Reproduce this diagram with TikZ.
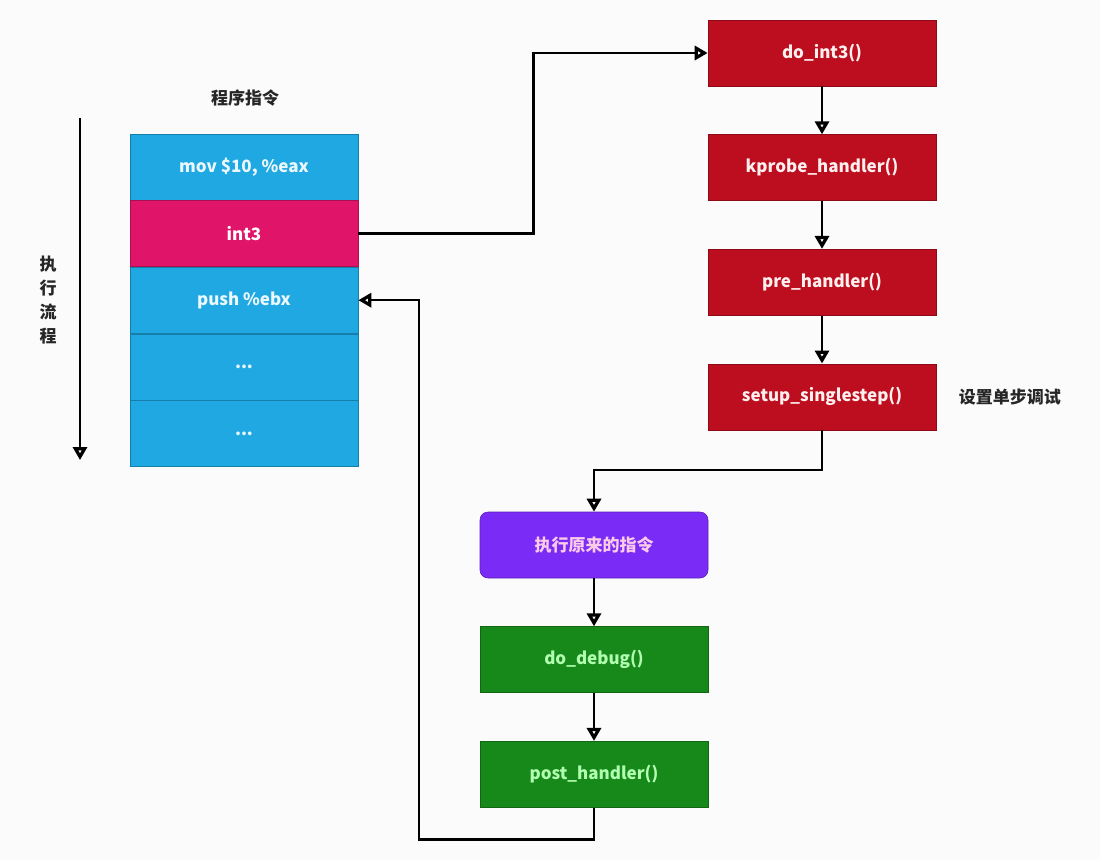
\documentclass[tikz,border=0pt]{standalone}
\usepackage{fontspec}
\setmainfont{Noto Sans CJK SC}
\usetikzlibrary{positioning,arrows.meta}

\definecolor{bgpaper}{HTML}{FBFBFC}
\definecolor{stackblue}{HTML}{1FA8E2}
\definecolor{trapred}{HTML}{E0156A}
\definecolor{handlered}{HTML}{BC0E1E}
\definecolor{origpurple}{HTML}{7A2CF6}
\definecolor{debuggreen}{HTML}{17891A}

\begin{document}
\begin{tikzpicture}[x=1pt, y=1pt, node distance={48pt}, line width=2.5pt,
	>={Triangle[length=13pt,width=14pt,fill=white,line width=3.5pt]},
	box/.style={minimum width=228pt, minimum height=66pt, inner sep=0pt, line width=0.6pt, font=\fontsize{17}{20}\selectfont\bfseries},
	instr/.style={box, draw=stackblue!75!black, fill=stackblue, text=cyan!8},
	trap/.style={box, draw=trapred!75!black, fill=trapred, text=white},
	handler/.style={box, draw=handlered!75!black, fill=handlered, text=red!6},
	orig/.style={box, draw=origpurple!75!black, fill=origpurple, rounded corners=8pt, text=magenta!20},
	debug/.style={box, draw=debuggreen!75!black, fill=debuggreen, text=green!30},
	note/.style={font=\fontsize{17}{24}\selectfont\bfseries, text=black!85}]
	\useasboundingbox[fill=bgpaper] (0,0) rectangle (1100,-860);
	
	% program instructions
	\node[note] (title) at (245,-98) {程序指令};
	\node[instr] (mov) at (244,-167) {mov \$10, \%eax};
	\node[trap] (int3) [below=0pt of mov] {int3};
	\node[instr] (push) [below=0pt of int3] {push \%ebx};
	\node[instr] (dots1) [below=0pt of push] {...};
	\node[instr] (dots2) [below=0pt of dots1] {...};
	
	\coordinate (flowtop) at (80,-118);
	\coordinate (flowend) at (80,-460);
	\draw[->] (flowtop) -- (flowend);
	\node[note, align=center] (flow) at (48,-300) {执\\行\\流\\程};
	
	% kprobe path
	\node[handler] (doint3) at (822,-53) {do\_int3()};
	\node[handler] (kprobe) [below=of doint3] {kprobe\_handler()};
	\node[handler] (pre) [below=of kprobe] {pre\_handler()};
	\node[handler] (single) [below=of pre] {setup\_singlestep()};
	\node[note, right=18pt of single] (singlenote) {设置单步调试};
	
	\node[orig] (run) at (594,-545) {执行原来的指令};
	\node[debug] (dodebug) [below=of run] {do\_debug()};
	\node[debug] (post) [below=of dodebug] {post\_handler()};
	
	\draw[->] (int3.east) -- ++(175,0) |- (doint3.west);
	\draw[->] (doint3) -- (kprobe);
	\draw[->] (kprobe) -- (pre);
	\draw[->] (pre) -- (single);
	\draw[->] (single.south) -- ++(0,-40) -| (run.north);
	\draw[->] (run) -- (dodebug);
	\draw[->] (dodebug) -- (post);
	\draw[->] (post.south) |- ++(-175,-32) |- (push.east);
\end{tikzpicture}
\end{document}
